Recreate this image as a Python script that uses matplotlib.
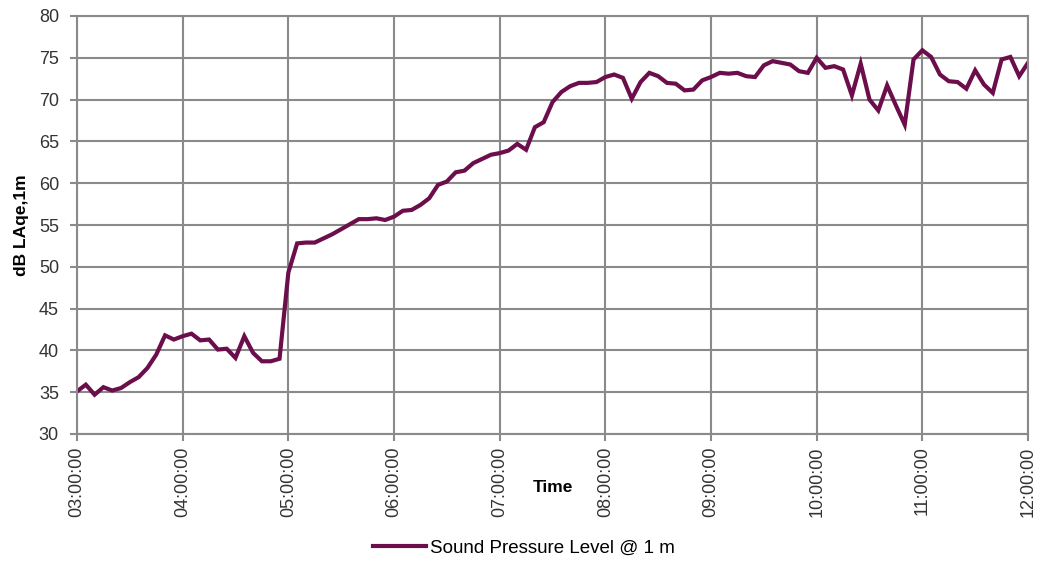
import numpy as np
import pandas as pd
import matplotlib
matplotlib.use("Agg")
import matplotlib.pyplot as plt
import matplotlib.dates as mdates

plt.rcParams['font.family'] = ['Liberation Sans', 'DejaVu Sans']

# 5 minute readings from 03:00 to 12:00
times = pd.date_range("2020-01-01 03:00", "2020-01-01 12:00", freq="5min")

spl_0300_0500 = [35.1, 35.9, 34.7, 35.6, 35.2, 35.5, 36.2, 36.8, 37.9, 39.5,
                 41.8, 41.3, 41.7, 42.0, 41.2, 41.3, 40.1, 40.2, 39.1, 41.7,
                 39.7, 38.7, 38.7, 39.0, 49.3]
spl_0505_0705 = [52.8, 52.9, 52.9, 53.4, 53.9, 54.5, 55.1, 55.7, 55.7, 55.8,
                 55.6, 56.0, 56.7, 56.8, 57.4, 58.2, 59.8, 60.2, 61.3, 61.5,
                 62.4, 62.9, 63.4, 63.6, 63.9]
spl_0710_0930 = [64.7, 64.0, 66.7, 67.3, 69.7, 70.9, 71.6, 72.0, 72.0, 72.1,
                 72.7, 73.0, 72.6, 70.1, 72.1, 73.2, 72.8, 72.0, 71.9, 71.1,
                 71.2, 72.3, 72.7, 73.2, 73.1, 73.2, 72.8, 72.7, 74.1]
spl_0935_1200 = [74.6, 74.4, 74.2, 73.4, 73.2, 75.0, 73.8, 74.0, 73.6, 70.5,
                 74.3, 70.0, 68.7, 71.7, 69.3, 67.0, 74.8, 75.9, 75.1, 73.0,
                 72.2, 72.1, 71.3, 73.5, 71.8, 70.8, 74.8, 75.1, 72.8, 74.4]
spl = spl_0300_0500 + spl_0505_0705 + spl_0710_0930 + spl_0935_1200

grey = "#8a8a8a"
line_col = "#6b0e4b"

fig = plt.figure(figsize=(10.41, 5.63), dpi=100)
ax = fig.add_axes([77/1041, 1 - 434/563, (1028-77)/1041, (434-16)/563])

ax.plot(times, spl, color=line_col, lw=3, label="Sound Pressure Level @ 1 m",
        solid_joinstyle="miter")

ax.set_xlim(times[0], times[-1])
ax.set_ylim(30, 80)
ax.set_yticks(np.arange(30, 81, 5))
ax.xaxis.set_major_locator(mdates.HourLocator())
ax.xaxis.set_major_formatter(mdates.DateFormatter("%H:%M:%S"))

ax.grid(True, color=grey, lw=1.5)
ax.set_axisbelow(True)
for s in ax.spines.values():
    s.set_color(grey)
    s.set_linewidth(1.5)

ax.tick_params(axis="y", length=5, width=1.5, color=grey, pad=8,
               labelsize=13, labelcolor="#333333")
ax.tick_params(axis="x", length=5, width=1.5, color=grey, pad=4,
               labelsize=13, labelcolor="#333333", labelrotation=90)

ax.set_ylabel("dB LAqe,1m", fontsize=12.5, fontweight="bold")
ax.yaxis.set_label_coords(-48/951, 0.5)
ax.set_xlabel("Time", fontsize=12.5, fontweight="bold")
ax.xaxis.set_label_coords(0.5, -54/418)
ax.xaxis.label.set_va("center")

fig.legend(loc="center", bbox_to_anchor=(524/1041, 15/563), frameon=False,
           fontsize=13.5, handlelength=2.8, handletextpad=0.2)

fig.savefig("out.png", dpi=100)
